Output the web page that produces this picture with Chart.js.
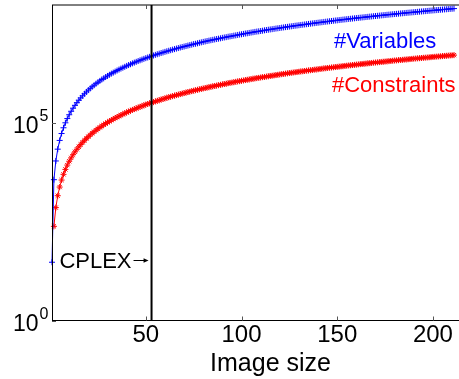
<!DOCTYPE html>
<html><head><meta charset="utf-8">
<script src="https://cdn.jsdelivr.net/npm/chart.js@4/dist/chart.umd.min.js"></script>
<style>html,body{margin:0;padding:0;background:#fff;overflow:hidden}canvas{display:block}</style>
</head><body>
<canvas id="c" width="459" height="379"></canvas>
<script>
// ---- data ----
const imageSize = [1,2,3,4,5,6,7,8,9,10,11,12,13,14,15,16,17,18,19,20,
21,22,23,24,25,26,27,28,29,30,31,32,33,34,35,36,37,38,39,40,
41,42,43,44,45,46,47,48,49,50,51,52,53,54,55,56,57,58,59,60,
61,62,63,64,65,66,67,68,69,70,71,72,73,74,75,76,77,78,79,80,
81,82,83,84,85,86,87,88,89,90,91,92,93,94,95,96,97,98,99,100,
101,102,103,104,105,106,107,108,109,110,111,112,113,114,115,116,117,118,119,120,
121,122,123,124,125,126,127,128,129,130,131,132,133,134,135,136,137,138,139,140,
141,142,143,144,145,146,147,148,149,150,151,152,153,154,155,156,157,158,159,160,
161,162,163,164,165,166,167,168,169,170,171,172,173,174,175,176,177,178,179,180,
181,182,183,184,185,186,187,188,189,190,191,192,193,194,195,196,197,198,199,200,
201,202,203,204,205,206,207,208,209,210,211,212];

const numVariables = [30,3720,11100,22100,36800,55100,77100,103000,132000,165000,
202000,242000,286000,333000,385000,440000,498000,561000,626000,696000,
769000,846000,927000,1.01e6,1.10e6,1.19e6,1.29e6,1.38e6,1.49e6,1.59e6,
1.70e6,1.82e6,1.93e6,2.05e6,2.18e6,2.31e6,2.44e6,2.57e6,2.71e6,2.86e6,
3.00e6,3.15e6,3.31e6,3.46e6,3.62e6,3.79e6,3.96e6,4.13e6,4.31e6,4.49e6,
4.67e6,4.85e6,5.05e6,5.24e6,5.44e6,5.64e6,5.84e6,6.05e6,6.26e6,6.48e6,
6.70e6,6.92e6,7.15e6,7.38e6,7.61e6,7.85e6,8.09e6,8.34e6,8.59e6,8.84e6,
9.10e6,9.36e6,9.62e6,9.89e6,1.02e7,1.04e7,1.07e7,1.10e7,1.13e7,1.16e7,
1.19e7,1.22e7,1.25e7,1.28e7,1.31e7,1.34e7,1.37e7,1.40e7,1.43e7,1.47e7,
1.50e7,1.53e7,1.57e7,1.60e7,1.63e7,1.67e7,1.70e7,1.74e7,1.78e7,1.81e7,
1.85e7,1.89e7,1.92e7,1.96e7,2.00e7,2.04e7,2.08e7,2.12e7,2.15e7,2.19e7,
2.23e7,2.28e7,2.32e7,2.36e7,2.40e7,2.44e7,2.48e7,2.53e7,2.57e7,2.61e7,
2.66e7,2.70e7,2.75e7,2.79e7,2.84e7,2.88e7,2.93e7,2.98e7,3.02e7,3.07e7,
3.12e7,3.16e7,3.21e7,3.26e7,3.31e7,3.36e7,3.41e7,3.46e7,3.51e7,3.56e7,
3.61e7,3.66e7,3.72e7,3.77e7,3.82e7,3.87e7,3.93e7,3.98e7,4.04e7,4.09e7,
4.15e7,4.20e7,4.26e7,4.31e7,4.37e7,4.43e7,4.48e7,4.54e7,4.60e7,4.66e7,
4.71e7,4.77e7,4.83e7,4.89e7,4.95e7,5.01e7,5.07e7,5.13e7,5.20e7,5.26e7,
5.32e7,5.38e7,5.45e7,5.51e7,5.57e7,5.64e7,5.70e7,5.77e7,5.83e7,5.90e7,
5.96e7,6.03e7,6.10e7,6.16e7,6.23e7,6.30e7,6.37e7,6.43e7,6.50e7,6.57e7,
6.64e7,6.71e7,6.78e7,6.85e7,6.92e7,6.99e7,7.07e7,7.14e7,7.21e7,7.28e7,
7.36e7,7.43e7,7.50e7,7.58e7,7.65e7,7.73e7,7.80e7,7.88e7,7.96e7,8.03e7,
8.11e7,8.19e7];

const numConstraints = [null,244,729,1460,2420,3640,5090,6780,8720,10900,
13300,16000,18900,22000,25400,29100,32900,37000,41400,46000,
50800,55900,61200,66800,72600,78700,85000,91500,98300,105000,
113000,120000,128000,136000,144000,152000,161000,170000,179000,189000,
198000,208000,219000,229000,240000,251000,262000,273000,285000,297000,
3.09e5,3.21e5,3.34e5,3.46e5,3.59e5,3.73e5,3.86e5,4.00e5,4.14e5,4.28e5,
4.43e5,4.58e5,4.73e5,4.88e5,5.03e5,5.19e5,5.35e5,5.51e5,5.68e5,5.84e5,
6.01e5,6.19e5,6.36e5,6.54e5,6.72e5,6.90e5,7.08e5,7.27e5,7.46e5,7.65e5,
7.84e5,8.04e5,8.24e5,8.44e5,8.64e5,8.85e5,9.05e5,9.26e5,9.48e5,9.69e5,
9.91e5,1.01e6,1.04e6,1.06e6,1.08e6,1.10e6,1.13e6,1.15e6,1.17e6,1.20e6,
1.22e6,1.25e6,1.27e6,1.30e6,1.32e6,1.35e6,1.37e6,1.40e6,1.42e6,1.45e6,
1.48e6,1.50e6,1.53e6,1.56e6,1.59e6,1.61e6,1.64e6,1.67e6,1.70e6,1.73e6,
1.76e6,1.79e6,1.82e6,1.85e6,1.88e6,1.91e6,1.94e6,1.97e6,2.00e6,2.03e6,
2.06e6,2.09e6,2.12e6,2.16e6,2.19e6,2.22e6,2.25e6,2.29e6,2.32e6,2.35e6,
2.39e6,2.42e6,2.46e6,2.49e6,2.53e6,2.56e6,2.60e6,2.63e6,2.67e6,2.70e6,
2.74e6,2.78e6,2.81e6,2.85e6,2.89e6,2.93e6,2.96e6,3.00e6,3.04e6,3.08e6,
3.12e6,3.16e6,3.20e6,3.23e6,3.27e6,3.31e6,3.35e6,3.39e6,3.44e6,3.48e6,
3.52e6,3.56e6,3.60e6,3.64e6,3.68e6,3.73e6,3.77e6,3.81e6,3.86e6,3.90e6,
3.94e6,3.99e6,4.03e6,4.07e6,4.12e6,4.16e6,4.21e6,4.25e6,4.30e6,4.35e6,
4.39e6,4.44e6,4.48e6,4.53e6,4.58e6,4.62e6,4.67e6,4.72e6,4.77e6,4.82e6,
4.86e6,4.91e6,4.96e6,5.01e6,5.06e6,5.11e6,5.16e6,5.21e6,5.26e6,5.31e6,
5.36e6,5.41e6];

const xTicks = [50, 100, 150, 200];
const yTicks = [1, 100000];
const yTickExponents = ['0', '5'];
const cplexSize = 53;
const seriesNames = ['#Variables', '#Constraints'];
const xTitle = 'Image size';
const annotationText = 'CPLEX';

// ---- chart ----
const FONT = '"Liberation Sans", Arial, Helvetica, sans-serif';

const overlay = {
  id: 'overlay',
  afterDatasetsDraw(chart) {
    const ctx = chart.ctx;
    const xs = chart.scales.x, ys = chart.scales.y;
    const a = chart.chartArea;
    ctx.save();
    // axes box (left, bottom, top)
    ctx.strokeStyle = '#000';
    ctx.lineWidth = 1;
    ctx.beginPath();
    ctx.moveTo(a.left + 0.5, a.top);
    ctx.lineTo(a.left + 0.5, a.bottom);
    ctx.moveTo(a.left, a.bottom);
    ctx.lineTo(chart.width, a.bottom);
    ctx.moveTo(a.left, a.top);
    ctx.lineTo(chart.width, a.top);
    ctx.stroke();
    // inward tick marks
    ctx.strokeStyle = '#555';
    ctx.beginPath();
    xTicks.forEach(v => {
      const px = Math.round(xs.getPixelForValue(v)) + 0.5;
      ctx.moveTo(px, a.bottom); ctx.lineTo(px, a.bottom - 4);
      ctx.moveTo(px, a.top); ctx.lineTo(px, a.top + 4);
    });
    yTicks.forEach(v => {
      const py = Math.round(ys.getPixelForValue(v)) + 0.5;
      ctx.moveTo(a.left, py); ctx.lineTo(a.left + 4, py);
    });
    ctx.stroke();
    // y tick labels 10^k
    ctx.fillStyle = '#000';
    yTicks.forEach((v, i) => {
      const py = ys.getPixelForValue(v);
      ctx.font = '23px ' + FONT;
      ctx.textAlign = 'right';
      ctx.textBaseline = 'alphabetic';
      ctx.fillText('10', 38.5, py + 10);
      ctx.font = '16px ' + FONT;
      ctx.textAlign = 'left';
      ctx.fillText(yTickExponents[i], 39.5, py - 2);
    });
    // CPLEX vertical line
    const cx = xs.getPixelForValue(cplexSize);
    ctx.strokeStyle = '#000';
    ctx.lineWidth = 2;
    ctx.beginPath();
    ctx.moveTo(cx, a.top); ctx.lineTo(cx, a.bottom);
    ctx.stroke();
    // CPLEX annotation with arrow
    const ay = 260.5;
    const tip = cx - 3, tail = cx - 18;
    ctx.lineWidth = 1;
    ctx.beginPath();
    ctx.moveTo(tail, ay); ctx.lineTo(tip - 2, ay);
    ctx.stroke();
    ctx.beginPath();
    ctx.moveTo(tip, ay); ctx.lineTo(tip - 5, ay - 2.2); ctx.lineTo(tip - 5, ay + 2.2); ctx.closePath();
    ctx.fill();
    ctx.font = '22px ' + FONT;
    ctx.textAlign = 'right';
    ctx.textBaseline = 'alphabetic';
    ctx.fillText(annotationText, tail - 2, 267.5);
    // series labels
    ctx.textAlign = 'left';
    ctx.fillStyle = '#0000ff';
    ctx.fillText(seriesNames[0], 334, 47.5);
    ctx.fillStyle = '#ff0000';
    ctx.fillText(seriesNames[1], 332, 91.5);
    // x title
    ctx.fillStyle = '#000';
    ctx.font = '25px ' + FONT;
    ctx.textAlign = 'center';
    ctx.fillText(xTitle, 270.5, 370.5);
    ctx.restore();
  }
};

new Chart(document.getElementById('c'), {
  type: 'line',
  data: {
    datasets: [
      {
        label: seriesNames[0],
        data: imageSize.map((n, i) => ({x: n, y: numVariables[i]})),
        borderColor: '#0000ff',
        backgroundColor: '#0000ff',
        borderWidth: 1,
        pointStyle: 'cross',
        pointRadius: 3,
        pointBorderWidth: 1,
        pointBorderColor: '#0000ff',
        fill: false,
        tension: 0,
        clip: false
      },
      {
        label: seriesNames[1],
        data: imageSize.map((n, i) => ({x: n, y: numConstraints[i]})),
        borderColor: '#ff0000',
        backgroundColor: '#ff0000',
        borderWidth: 1,
        pointStyle: 'star',
        pointRadius: 3,
        pointBorderWidth: 1,
        pointBorderColor: '#ff0000',
        fill: false,
        tension: 0,
        clip: false
      }
    ]
  },
  options: {
    responsive: false,
    animation: false,
    devicePixelRatio: 1,
    layout: { padding: { left: 52, top: 4.5, right: 0, bottom: 0 } },
    plugins: { legend: { display: false }, tooltip: { enabled: false } },
    scales: {
      x: {
        type: 'linear',
        min: 1,
        max: 211,
        grid: { display: false, drawTicks: false },
        border: { display: false },
        afterBuildTicks: s => { s.ticks = xTicks.map(v => ({value: v})); },
        afterFit: s => { s.height = 58.5; },
        ticks: {
          color: '#000',
          padding: 0,
          maxRotation: 0,
          font: { family: FONT, size: 24 },
          callback: v => String(v)
        }
      },
      y: {
        type: 'logarithmic',
        min: 1,
        max: 1e8,
        display: false
      }
    }
  },
  plugins: [overlay]
});
</script>
</body></html>
